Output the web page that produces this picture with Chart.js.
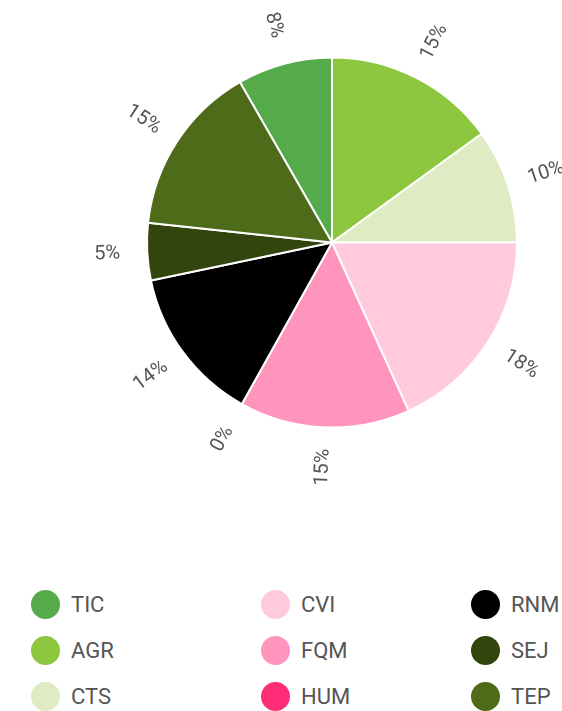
<!DOCTYPE html>
<html lang="en">
<head>
  <meta charset="UTF-8">
  <title>Distribución por área</title>
  <script src="https://cdn.jsdelivr.net/npm/chart.js"></script>
  <style>
    body {
      margin: 0;
      padding: 0;
      background-color: #fff;
      font-family: Roboto, Arial, sans-serif;
      width: 562px;
      height: 711px;
      overflow: hidden;
      position: relative;
    }

    #pie {
      position: absolute;
      left: 0;
      top: 0;
    }

    .item {
      position: absolute;
      height: 30px;
      display: flex;
      align-items: center;
      color: #555;
      font-size: 22px;
      white-space: nowrap;
    }

    .dot {
      width: 29px;
      height: 29px;
      border-radius: 50%;
      margin-right: 11px;
    }
  </style>
</head>
<body>
  <canvas id="pie" width="562" height="484"></canvas>
  <div id="legend"></div>

  <script>
    // Categories and shares (%)
    const areas = ['TIC', 'AGR', 'CTS', 'CVI', 'FQM', 'HUM', 'RNM', 'SEJ', 'TEP'];
    const shares = [8.3, 15.0, 10.0, 18.2, 14.9, 0, 13.6, 5.0, 15.0];
    const colors = ['#55ab4a', '#8dc63f', '#dfecc3', '#ffc9de', '#ff94bd', '#ff2d78', '#000000', '#33450e', '#4d6b19'];

    const total = shares.reduce((a, b) => a + b, 0);

    // Percent labels outside the pie, turned along the radius
    const outsideLabels = {
      id: 'outsideLabels',
      afterDatasetsDraw(chart) {
        const ctx = chart.ctx;
        const arcs = chart.getDatasetMeta(0).data;
        ctx.save();
        ctx.font = '20px Roboto';
        ctx.fillStyle = '#555';
        ctx.textAlign = 'center';
        ctx.textBaseline = 'middle';
        arcs.forEach((arc, i) => {
          const mid = (arc.startAngle + arc.endAngle) / 2;
          const r = arc.outerRadius + 40;
          const x = arc.x + Math.cos(mid) * r;
          const y = arc.y + Math.sin(mid) * r;
          let rot = mid;
          while (rot > Math.PI) rot -= 2 * Math.PI;
          while (rot < -Math.PI) rot += 2 * Math.PI;
          if (rot > Math.PI / 2) rot -= Math.PI;
          if (rot < -Math.PI / 2) rot += Math.PI;
          ctx.save();
          ctx.translate(x, y);
          ctx.rotate(rot);
          ctx.fillText(Math.round(shares[i] / total * 100) + '%', 0, 0);
          ctx.restore();
        });
        ctx.restore();
      }
    };

    new Chart(document.getElementById('pie'), {
      type: 'pie',
      data: {
        labels: areas,
        datasets: [{
          data: shares,
          backgroundColor: colors,
          borderColor: '#fff',
          borderWidth: 2
        }]
      },
      options: {
        responsive: false,
        animation: false,
        rotation: -shares[0] / total * 360,
        layout: {
          padding: { top: 56, bottom: 55, left: 146, right: 44 }
        },
        plugins: {
          legend: { display: false },
          tooltip: { enabled: false }
        }
      },
      plugins: [outsideLabels]
    });

    // Legend: three columns, filled top to bottom
    const legend = document.getElementById('legend');
    const colX = [31, 261, 471];
    const rowY = [589, 635, 681];
    areas.forEach((name, i) => {
      const item = document.createElement('div');
      item.className = 'item';
      item.style.left = colX[Math.floor(i / 3)] + 'px';
      item.style.top = rowY[i % 3] + 'px';
      item.innerHTML = '<span class="dot" style="background:' + colors[i] + '"></span>' + name;
      legend.appendChild(item);
    });
  </script>
</body>
</html>
